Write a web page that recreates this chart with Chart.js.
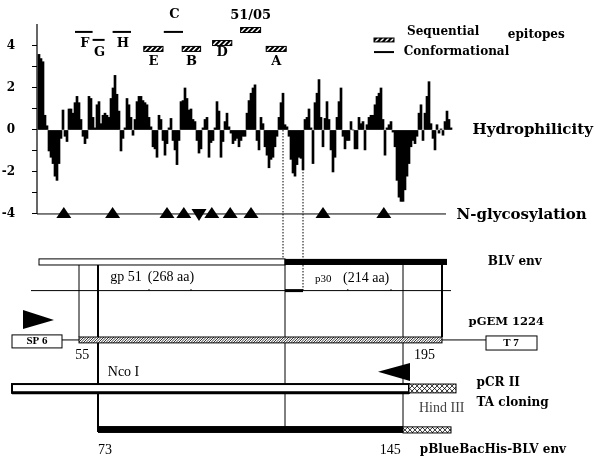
<!DOCTYPE html>
<html>
<head>
<meta charset="utf-8">
<script src="https://cdn.jsdelivr.net/npm/chart.js@4.4.1/dist/chart.umd.min.js"></script>
<style>
  html, body { margin: 0; padding: 0; background: #fff; }
  #wrap { width: 600px; height: 459px; }
</style>
</head>
<body>
<div id="wrap"><canvas id="c" width="600" height="459"></canvas></div>
<script>
// hydrophilicity profile, one value every 2.5 residues
const hydro = [
  3.6,3.4,3.25,0.7,0.2,-1.0,-1.3,-1.6,-2.2,-2.4,-1.6,-0.4,0.95,-0.3,-0.55,1.0,1.0,0.8,1.3,1.6,
  1.3,0.5,-0.3,-0.65,-0.4,1.6,1.5,0.6,0.1,1.2,1.35,0.3,0.7,0.8,0.7,0.6,1.5,2.0,2.6,1.7,
  0.9,-1.0,-0.4,0.1,1.5,1.2,0.6,-0.25,0.5,1.35,1.6,
  1.6,1.4,1.3,1.2,0.6,0.15,-0.8,-0.9,-1.3,0.7,0.5,-0.5,-1.2,-0.65,0.1,0.55,-0.5,-0.95,-1.65,-0.5,
  1.35,1.4,2.0,1.5,0.95,1.0,0.5,0.4,-0.5,-1.1,-0.9,0.1,0.5,0.6,-1.3,-0.6,-0.5,0.1,1.35,0.9,
  -1.3,-0.55,0.4,0.8,0.15,-0.15,-0.65,-0.5,-0.4,-0.8,-0.5,-0.3,
  -0.3,0.8,1.4,1.75,2.0,2.15,-0.5,-0.95,0.6,0.3,-0.8,-1.2,-1.8,-1.4,-1.3,-0.8,-0.3,0.6,1.3,1.75,
  0.25,0.15,-0.3,-1.4,-2.05,-2.2,-1.65,-1.3,-1.35,-1.9,0.5,0.6,1.0,0.1,-1.6,1.3,1.75,2.4,0.6,-0.8,
  0.55,1.35,0.5,-0.95,-2.0,-1.3,0.6,1.35,2.0,-0.3,-0.9,-0.5,
  -0.5,0.4,0.0,-0.9,-0.9,0.6,0.3,0.4,-0.95,0.25,0.6,0.7,0.7,1.2,1.6,1.75,2.0,0.5,-1.2,0.1,
  0.25,0.4,-0.1,-0.8,-2.4,-3.2,-3.4,-3.4,-2.85,-2.2,-1.6,-0.8,-0.5,-0.65,-0.3,0.8,1.2,-0.5,0.8,1.6,
  2.3,0.3,-0.4,-0.95,0.25,-0.15,0.05,-0.25,0.4,0.9,0.5,0.1
];
const STEP = 2.5; // residues per bar
const yTicks = [-4, -3, -2, -1, 0, 1, 2, 3, 4];

// epitopes: [label, from, to, level, label level]
const conformational = [
  ['F', 46, 68, 4.67, 4.1],
  ['G', 68, 83, 4.29, 3.67],
  ['H', 93, 116, 4.67, 4.1],
  ['C', 157, 181, 4.67, 5.48]
];
const sequential = [
  ['E', 132, 156, 3.86, 3.24],
  ['B', 180, 203, 3.86, 3.24],
  ['D', 218, 242, 4.14, 3.67],
  ['51/05', 253, 278, 4.76, 5.43],
  ['A', 285, 310, 3.86, 3.24]
];

// N-glycosylation sites (residue)
const glycoUp = [32, 93, 161, 182, 217, 240, 266, 356, 432];
const glycoDown = [201];

// construct map (residue positions, y rows in plot units)
const envSplit = [1, 308.5, 511];
const gpLine = [-9, 516];
const gpTicks = [138.5, 191, 387, 441];
const dotted = [[306, -6.14], [331, -7.65]];
const vLines = [
  [51, -6.43, -9.86, 1],
  [74.75, -6.43, -14.38, 2],
  [308.5, -6.14, -14.14, 1],
  [456, -6.43, -14.3, 1],
  [504.75, -6.43, -9.86, 2]
];
const pGEM = [51, 504.75];
const sp6Box = [-32.75, 29.75];
const t7Box = [559.75, 623.5];
const pCR = [-32.75, 463.5, 522.25];
const pBlue = [74.75, 456, 516];

const SERIF = "'DejaVu Serif', serif";
const TIMES = "'Liberation Serif', serif";

const texts = [
  ['Hydrophilicity', 543, 0, 'bold 15px ' + SERIF, 'left', '#000'],
  ['N-glycosylation', 523, -4.05, 'bold 15px ' + SERIF, 'left', '#000'],
  ['Sequential', 461, 4.67, 'bold 12px ' + SERIF, 'left', '#000'],
  ['Conformational', 457, 3.71, 'bold 12px ' + SERIF, 'left', '#000'],
  ['epitopes', 587, 4.52, 'bold 12px ' + SERIF, 'left', '#000'],
  ['BLV env', 562, -6.29, 'bold 12px ' + SERIF, 'left', '#000'],
  ['gp 51', 90, -7.0, '14px ' + TIMES, 'left', '#000'],
  ['(268 aa)', 137, -7.0, '14px ' + TIMES, 'left', '#000'],
  ['p30', 346, -7.1, '11px ' + TIMES, 'left', '#000'],
  ['(214 aa)', 381, -7.05, '14px ' + TIMES, 'left', '#000'],
  ['pGEM 1224', 538, -9.14, 'bold 11.5px ' + SERIF, 'left', '#000'],
  ['SP 6', -1.5, -10.07, 'bold 11px ' + TIMES, 'center', '#000'],
  ['T 7', 591, -10.14, 'bold 11px ' + TIMES, 'center', '#000'],
  ['55', 55, -10.71, '14px ' + TIMES, 'center', '#000'],
  ['195', 483, -10.71, '14px ' + TIMES, 'center', '#000'],
  ['Nco I', 87, -11.52, '14px ' + TIMES, 'left', '#000'],
  ['pCR II', 548, -12.05, 'bold 12px ' + SERIF, 'left', '#000'],
  ['TA cloning', 548, -13.0, 'bold 12px ' + SERIF, 'left', '#000'],
  ['Hind III', 476, -13.24, '14px ' + TIMES, 'left', '#444'],
  ['73', 83.5, -15.24, '14px ' + TIMES, 'center', '#000'],
  ['145', 440, -15.24, '14px ' + TIMES, 'center', '#000'],
  ['pBlueBacHis-BLV env', 477, -15.24, 'bold 12px ' + SERIF, 'left', '#000']
];

function hatch(ctx, x0, y0, x1, y1, gap, cross, bg, fg, lw) {
  ctx.save();
  ctx.beginPath();
  ctx.rect(x0, y0, x1 - x0, y1 - y0);
  ctx.fillStyle = bg;
  ctx.fill();
  ctx.clip();
  ctx.strokeStyle = fg;
  ctx.lineWidth = lw;
  const h = y1 - y0;
  ctx.beginPath();
  for (let x = x0 - Math.abs(h); x < x1 + Math.abs(h); x += gap) {
    ctx.moveTo(x, y1); ctx.lineTo(x + h, y0);
    if (cross) { ctx.moveTo(x, y0); ctx.lineTo(x + h, y1); }
  }
  ctx.stroke();
  ctx.restore();
  ctx.strokeStyle = '#000';
  ctx.lineWidth = 1;
  ctx.strokeRect(x0, y0, x1 - x0, y1 - y0);
}

function line(ctx, x0, y0, x1, y1, w) {
  ctx.lineWidth = w;
  ctx.beginPath();
  ctx.moveTo(x0, y0);
  ctx.lineTo(x1, y1);
  ctx.stroke();
}

const dottedPlugin = {
  id: 'dotted',
  beforeDatasetsDraw(chart) {
    const { ctx, scales: { x, y } } = chart;
    ctx.save();
    ctx.strokeStyle = '#000';
    ctx.setLineDash([1.5, 1.5]);
    dotted.forEach(([r, vb]) => line(ctx, x.getPixelForValue(r), y.getPixelForValue(0), x.getPixelForValue(r), y.getPixelForValue(vb), 1));
    ctx.restore();
  }
};

const mapPlugin = {
  id: 'map',
  afterDatasetsDraw(chart) {
    const { ctx, scales: { x, y } } = chart;
    const X = r => x.getPixelForValue(r);
    const Y = v => y.getPixelForValue(v);
    ctx.save();
    ctx.strokeStyle = '#000';
    ctx.fillStyle = '#000';

    // axis line and glycosylation baseline
    const ax = chart.chartArea.left;
    line(ctx, ax, Y(5.05), ax, Y(-4), 1.2);
    line(ctx, ax, Y(-4), X(509.75), Y(-4), 1);

    // glycosylation triangles
    const gy = Y(-4);
    glycoUp.forEach(r => {
      const cx = X(r);
      ctx.beginPath();
      ctx.moveTo(cx - 7.5, gy + 4); ctx.lineTo(cx + 7.5, gy + 4); ctx.lineTo(cx, gy - 7);
      ctx.closePath(); ctx.fill();
    });
    glycoDown.forEach(r => {
      const cx = X(r);
      ctx.beginPath();
      ctx.moveTo(cx - 7.5, gy - 5); ctx.lineTo(cx + 7.5, gy - 5); ctx.lineTo(cx, gy + 7);
      ctx.closePath(); ctx.fill();
    });

    // epitopes
    ctx.font = 'bold 13px ' + SERIF;
    ctx.textAlign = 'center';
    ctx.textBaseline = 'middle';
    conformational.forEach(([n, a, b, lv, ll]) => {
      line(ctx, X(a), Y(lv), X(b), Y(lv), 2);
      ctx.fillText(n, (X(a) + X(b)) / 2 + 1, Y(ll));
    });
    sequential.forEach(([n, a, b, lv, ll]) => {
      hatch(ctx, X(a), Y(lv) - 2.5, X(b), Y(lv) + 2.5, 5, false, '#000', '#fff', 1.5);
      ctx.fillStyle = '#000';
      ctx.fillText(n, (X(a) + X(b)) / 2, Y(ll));
    });
    // legend marks
    hatch(ctx, X(419.75), Y(4.38), X(444.75), Y(4.24) + 1, 5, false, '#000', '#fff', 1.5);
    line(ctx, X(419.75), Y(3.71), X(444.75), Y(3.71), 2);

    // BLV env bar
    ctx.lineWidth = 1;
    ctx.strokeRect(X(envSplit[0]), Y(-6.14), X(envSplit[1]) - X(envSplit[0]), Y(-6.43) - Y(-6.14));
    ctx.fillRect(X(envSplit[1]), Y(-6.14), X(envSplit[2]) - X(envSplit[1]), Y(-6.43) - Y(-6.14));

    // gp51 / p30 line
    line(ctx, X(gpLine[0]), Y(-7.65), X(gpLine[1]), Y(-7.65), 1);
    line(ctx, X(308.5), Y(-7.65), X(331), Y(-7.65), 3);
    gpTicks.forEach(r => line(ctx, X(r), Y(-7.65) - 1.5, X(r), Y(-7.65), 1));

    // vertical guide lines
    vLines.forEach(([r, a, b, w]) => line(ctx, X(r), Y(a), X(r), Y(b), w));

    // SP6 primer arrow
    ctx.beginPath();
    ctx.moveTo(X(-19), Y(-8.57)); ctx.lineTo(X(19.75), Y(-9.05)); ctx.lineTo(X(-19), Y(-9.48));
    ctx.closePath(); ctx.fill();

    // pGEM 1224 hatched insert with SP6 / T7 boxes
    line(ctx, X(sp6Box[1]), Y(-10), X(pGEM[0]), Y(-10), 1);
    line(ctx, X(pGEM[1]), Y(-10), X(t7Box[0]), Y(-10), 1);
    hatch(ctx, X(pGEM[0]), Y(-9.86), X(pGEM[1]), Y(-10.14), 2.5, false, '#fff', '#000', 0.8);
    ctx.lineWidth = 1;
    ctx.fillStyle = '#fff';
    ctx.fillRect(X(sp6Box[0]), Y(-9.76), X(sp6Box[1]) - X(sp6Box[0]), Y(-10.38) - Y(-9.76));
    ctx.strokeRect(X(sp6Box[0]), Y(-9.76), X(sp6Box[1]) - X(sp6Box[0]), Y(-10.38) - Y(-9.76));
    ctx.fillRect(X(t7Box[0]), Y(-9.81), X(t7Box[1]) - X(t7Box[0]), Y(-10.48) - Y(-9.81));
    ctx.strokeRect(X(t7Box[0]), Y(-9.81), X(t7Box[1]) - X(t7Box[0]), Y(-10.48) - Y(-9.81));
    ctx.fillStyle = '#000';

    // reverse primer arrow
    ctx.beginPath();
    ctx.moveTo(X(424.75), Y(-11.52)); ctx.lineTo(X(464.75), Y(-11.1)); ctx.lineTo(X(464.75), Y(-11.95));
    ctx.closePath(); ctx.fill();

    // pCR II bar
    ctx.fillStyle = '#fff';
    ctx.fillRect(X(pCR[0]), Y(-12.1), X(pCR[1]) - X(pCR[0]), Y(-12.52) - Y(-12.1));
    ctx.lineWidth = 2;
    ctx.strokeRect(X(pCR[0]), Y(-12.1), X(pCR[1]) - X(pCR[0]), Y(-12.52) - Y(-12.1));
    line(ctx, X(pCR[0]), Y(-12.52), X(pCR[1]), Y(-12.52), 3);
    hatch(ctx, X(pCR[1]), Y(-12.1), X(pCR[2]), Y(-12.52), 5, true, '#fff', '#000', 0.8);

    // pBlueBacHis bar
    ctx.fillStyle = '#000';
    ctx.fillRect(X(pBlue[0]), Y(-14.1), X(pBlue[1]) - X(pBlue[0]), Y(-14.43) - Y(-14.1));
    hatch(ctx, X(pBlue[1]), Y(-14.14), X(pBlue[2]), Y(-14.43), 5, true, '#fff', '#000', 0.8);

    // text labels
    ctx.textBaseline = 'middle';
    texts.forEach(([t, r, v, f, al, col]) => {
      ctx.font = f;
      ctx.textAlign = al;
      ctx.fillStyle = col;
      ctx.fillText(t, X(r), Y(v));
    });
    ctx.restore();
  }
};

new Chart(document.getElementById('c'), {
  type: 'bar',
  data: {
    datasets: [{
      label: 'Hydrophilicity',
      data: hydro.map((v, i) => ({ x: 1 + i * STEP, y: v })),
      backgroundColor: '#000',
      borderWidth: 0,
      barPercentage: 1.0,
      categoryPercentage: 1.0
    }]
  },
  options: {
    responsive: false,
    animation: false,
    layout: { padding: 0 },
    plugins: { legend: { display: false }, tooltip: { enabled: false } },
    scales: {
      x: { type: 'linear', display: false, offset: false, min: -1.5, max: 702.25 },
      y: {
        type: 'linear',
        min: -15.67,
        max: 6.19,
        afterBuildTicks: s => { s.ticks = yTicks.map(v => ({ value: v })); },
        afterFit: s => { s.width = 37; s.paddingTop = 0; s.paddingBottom = 0; },
        border: { display: false },
        grid: { drawOnChartArea: false, drawTicks: true, tickLength: 5, color: '#000' },
        ticks: {
          autoSkip: false,
          padding: 17,
          color: '#000',
          font: { family: SERIF, size: 12, weight: 'bold' },
          callback: v => (v % 2 === 0 ? String(v) : '')
        }
      }
    }
  },
  plugins: [dottedPlugin, mapPlugin]
});
</script>
</body>
</html>
